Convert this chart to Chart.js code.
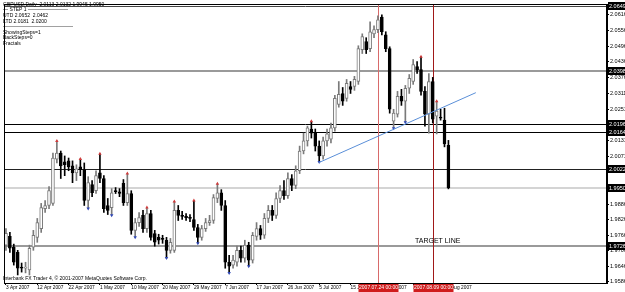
<!DOCTYPE html>
<html>
<head>
<meta charset="utf-8">
<script src="https://cdn.jsdelivr.net/npm/chart.js@4.4.1/dist/chart.umd.min.js"></script>
<style>
  html, body { margin: 0; padding: 0; background: #fff; }
  canvas { display: block; }
</style>
</head>
<body>
<canvas id="gbpChart" width="625" height="292"></canvas>
<script>
// GBPUSD daily bars, 3 Apr 2007 .. 14 Aug 2007
const opens = [
  1.9728, 1.9762, 1.9720, 1.9700, 1.9643, 1.9639, 1.9632, 1.9720, 1.9758, 1.9792,
  1.9869, 1.9881, 1.9889, 2.0060, 2.0083, 2.0049, 2.0053, 2.0034, 2.0007, 2.0030,
  2.0019, 1.9900, 1.9962, 1.9938, 2.0007, 1.9985, 1.9881, 1.9873, 1.9938, 1.9934,
  1.9966, 1.9892, 1.9927, 1.9785, 1.9815, 1.9843, 1.9792, 1.9850, 1.9773, 1.9758,
  1.9754, 1.9747, 1.9708, 1.9708, 1.9862, 1.9843, 1.9839, 1.9834, 1.9827, 1.9796,
  1.9758, 1.9792, 1.9815, 1.9823, 1.9908, 1.9930, 1.9881, 1.9662, 1.9651, 1.9662,
  1.9708, 1.9678, 1.9728, 1.9670, 1.9762, 1.9792, 1.9766, 1.9831, 1.9862, 1.9843,
  1.9908, 1.9938, 1.9919, 1.9985, 1.9958, 2.0015, 2.0091, 2.0130, 2.0176, 2.0160,
  2.0110, 2.0072, 2.0130, 2.0137, 2.0180, 2.0271, 2.0313, 2.0294, 2.0340, 2.0340,
  2.0359, 2.0482, 2.0513, 2.0486, 2.0543, 2.0559, 2.0608, 2.0539, 2.0486, 2.0206,
  2.0233, 2.0302, 2.0283, 2.0333, 2.0359, 2.0417, 2.0405, 2.0321, 2.0233, 2.0359,
  2.0225, 2.0222, 2.0210, 2.0113
];
const highs = [
  1.9792, 1.9777, 1.9732, 1.9708, 1.9659, 1.9662, 1.9728, 1.9785, 1.9831, 1.9889,
  1.9900, 1.9954, 2.0083, 2.0130, 2.0091, 2.0072, 2.0064, 2.0053, 2.0038, 2.0060,
  2.0045, 1.9992, 1.9977, 2.0015, 2.0080, 1.9996, 1.9908, 1.9946, 1.9950, 1.9946,
  1.9981, 2.0004, 1.9938, 1.9831, 1.9854, 1.9862, 1.9873, 1.9862, 1.9785, 1.9770,
  1.9766, 1.9758, 1.9754, 1.9896, 1.9881, 1.9858, 1.9850, 1.9846, 1.9900, 1.9808,
  1.9804, 1.9831, 1.9843, 1.9923, 1.9965, 1.9942, 1.9900, 1.9689, 1.9689, 1.9724,
  1.9724, 1.9747, 1.9739, 1.9777, 1.9815, 1.9804, 1.9850, 1.9881, 1.9881, 1.9930,
  1.9958, 1.9977, 2.0007, 2.0000, 2.0034, 2.0110, 2.0160, 2.0187, 2.0206, 2.0176,
  2.0130, 2.0145, 2.0176, 2.0199, 2.0306, 2.0359, 2.0336, 2.0367, 2.0359, 2.0379,
  2.0497, 2.0543, 2.0528, 2.0589, 2.0574, 2.0612, 2.0616, 2.0551, 2.0493, 2.0252,
  2.0321, 2.0329, 2.0344, 2.0386, 2.0444, 2.0436, 2.0455, 2.0340, 2.0390, 2.0375,
  2.0283, 2.0252, 2.0256, 2.0132
];
const lows = [
  1.9708, 1.9700, 1.9651, 1.9613, 1.9624, 1.9621, 1.9613, 1.9708, 1.9739, 1.9777,
  1.9854, 1.9869, 1.9881, 2.0045, 1.9985, 1.9996, 2.0015, 1.9969, 1.9977, 1.9996,
  1.9881, 1.9869, 1.9915, 1.9927, 1.9969, 1.9854, 1.9846, 1.9843, 1.9927, 1.9915,
  1.9881, 1.9881, 1.9770, 1.9758, 1.9800, 1.9777, 1.9777, 1.9747, 1.9724, 1.9732,
  1.9735, 1.9678, 1.9697, 1.9700, 1.9823, 1.9827, 1.9823, 1.9819, 1.9785, 1.9735,
  1.9747, 1.9781, 1.9804, 1.9812, 1.9892, 1.9862, 1.9639, 1.9621, 1.9639, 1.9647,
  1.9662, 1.9662, 1.9647, 1.9659, 1.9747, 1.9750, 1.9754, 1.9815, 1.9823, 1.9831,
  1.9892, 1.9904, 1.9908, 1.9938, 1.9946, 2.0004, 2.0080, 2.0110, 2.0141, 2.0091,
  2.0049, 2.0060, 2.0110, 2.0122, 2.0168, 2.0260, 2.0267, 2.0283, 2.0313, 2.0325,
  2.0348, 2.0467, 2.0467, 2.0474, 2.0528, 2.0547, 2.0539, 2.0474, 2.0237, 2.0179,
  2.0222, 2.0267, 2.0202, 2.0313, 2.0348, 2.0390, 2.0306, 2.0187, 2.0160, 2.0199,
  2.0157, 2.0210, 2.0107, 1.9945
];
const closes = [
  1.9774, 1.9716, 1.9662, 1.9639, 1.9639, 1.9643, 1.9716, 1.9766, 1.9815, 1.9873,
  1.9881, 1.9938, 2.0064, 2.0083, 2.0034, 2.0038, 2.0030, 2.0007, 2.0022, 2.0019,
  1.9900, 1.9969, 1.9930, 1.9996, 1.9985, 1.9869, 1.9862, 1.9930, 1.9934, 1.9927,
  1.9892, 1.9927, 1.9785, 1.9815, 1.9834, 1.9792, 1.9850, 1.9758, 1.9739, 1.9747,
  1.9750, 1.9708, 1.9739, 1.9862, 1.9843, 1.9839, 1.9834, 1.9831, 1.9796, 1.9758,
  1.9792, 1.9815, 1.9823, 1.9911, 1.9930, 1.9881, 1.9662, 1.9647, 1.9670, 1.9708,
  1.9678, 1.9728, 1.9670, 1.9766, 1.9792, 1.9766, 1.9831, 1.9862, 1.9843, 1.9908,
  1.9938, 1.9919, 1.9985, 1.9958, 2.0015, 2.0091, 2.0130, 2.0180, 2.0160, 2.0110,
  2.0072, 2.0130, 2.0157, 2.0180, 2.0294, 2.0310, 2.0283, 2.0352, 2.0329, 2.0367,
  2.0486, 2.0532, 2.0482, 2.0551, 2.0559, 2.0597, 2.0551, 2.0486, 2.0252, 2.0237,
  2.0302, 2.0283, 2.0333, 2.0371, 2.0424, 2.0405, 2.0321, 2.0233, 2.0359, 2.0214,
  2.0245, 2.0218, 2.0118, 1.9950
];

// time axis: one label every 8 bars
const dateTicks = ['3 Apr 2007', '12 Apr 2007', '22 Apr 2007', '1 May 2007', '10 May 2007',
  '20 May 2007', '29 May 2007', '7 Jun 2007', '17 Jun 2007', '26 Jun 2007', '5 Jul 2007',
  '15 Jul 2007', '25 Jul 2007', '3 Aug 2007', '13 Aug 2007'];
const priceTicks = [2.0616, 2.0556, 2.0496, 2.0436, 2.0376, 2.0311, 2.0251, 2.0191, 2.0131,
  2.0071, 2.0011, 1.9950, 1.9886, 1.9826, 1.9766, 1.9706, 1.9646, 1.9586];

// horizontal lines drawn on the chart
const levelValues = [2.0649, 2.0398, 2.0196, 2.0164, 2.0022, 1.9950, 1.9726];
const levelColors = ['#444444', '#9a9a9a', '#000000', '#000000', '#222222', '#d4d4d4', '#9a9a9a'];
const levelWidths = [1, 2, 1, 1, 1, 2, 2];

// vertical lines (bar index) and their time labels
const markerBars = [95, 109];
const markerLabels = ['2007.07.24 00:00', '2007.08.09 00:00'];
const markerColors = ['#d86a6a', '#a01818'];

// blue trend line
const trendBars = [80, 120];
const trendPrices = [2.0047, 2.0316];

// fractal arrows (bar index)
const upFractals = [13, 19, 24, 31, 36, 43, 48, 54, 78, 106, 110];
const downFractals = [21, 27, 33, 41, 49, 57, 62, 80, 99, 102];

const infoLines = ['GBPUSD,Daily  2.0113 2.0132 1.9945 1.9950', '— STEP 1 ————————',
  'UTD 2.0652  2.0462', 'LTD 2.0181  2.0200', '——————————————',
  'ShowingSteps=1', 'BackSteps=0', 'Fractals'];

const barSlots = 154; // bars + empty space on the right (chart shift)
const smallFont = '5px "Liberation Sans", Arial, sans-serif';

const labels = [];
for (let i = 0; i < barSlots; i++) labels.push(String(i));

const isUp = opens.map((o, i) => closes[i] >= o);
const bodyFill = isUp.map(u => u ? '#ffffff' : '#000000');
const bodyEdge = isUp.map(u => u ? '#7a7a7a' : '#000000');
const wickColor = isUp.map(u => u ? '#7a7a7a' : '#000000');

const trendData = labels.map(() => null);
trendBars.forEach((b, i) => { trendData[b] = trendPrices[i]; });

const upData = labels.map(() => null);
upFractals.forEach(b => { upData[b] = highs[b]; });
const downData = labels.map(() => null);
downFractals.forEach(b => { downData[b] = lows[b]; });

// lines, labels and texts drawn with the scales
const overlay = {
  id: 'overlay',
  beforeDatasetsDraw(chart) {
    const { ctx, chartArea: a, scales: { x, y } } = chart;
    ctx.save();
    levelValues.forEach((v, i) => {
      const w = levelWidths[i];
      const py = Math.round(y.getPixelForValue(v)) + (w % 2 ? 0.5 : 0);
      ctx.strokeStyle = levelColors[i];
      ctx.lineWidth = w;
      ctx.beginPath();
      ctx.moveTo(a.left, py);
      ctx.lineTo(a.right, py);
      ctx.stroke();
    });
    markerBars.forEach((b, i) => {
      const px = Math.round(x.getPixelForValue(b)) + 0.5;
      ctx.strokeStyle = markerColors[i];
      ctx.lineWidth = 1;
      ctx.beginPath();
      ctx.moveTo(px, a.top);
      ctx.lineTo(px, a.bottom);
      ctx.stroke();
    });
    ctx.restore();
  },
  afterDraw(chart) {
    const { ctx, chartArea: a, scales: { x, y } } = chart;
    ctx.save();

    // frame
    ctx.strokeStyle = '#000';
    ctx.lineWidth = 1;
    ctx.strokeRect(a.left + 0.5, a.top + 0.5, a.right - a.left - 1, a.bottom - a.top);

    // indicator text, top-left
    ctx.font = smallFont;
    ctx.fillStyle = '#000';
    ctx.textBaseline = 'middle';
    ctx.textAlign = 'left';
    infoLines.forEach((t, i) => {
      ctx.fillText(t, 3, 4.5 + i * 5.6);
    });

    // copyright line
    ctx.fillText('Interbank FX Trader 4, © 2001-2007 MetaQuotes Software Corp.', 3, 279);

    // target line caption
    ctx.font = '7px "Liberation Sans", Arial, sans-serif';
    ctx.textBaseline = 'alphabetic';
    ctx.fillText('TARGET LINE', 415, y.getPixelForValue(1.9726) - 3);

    // price boxes for the horizontal lines
    ctx.font = '5.5px "Liberation Sans", Arial, sans-serif';
    ctx.textBaseline = 'middle';
    levelValues.forEach(v => {
      const py = Math.round(y.getPixelForValue(v));
      ctx.fillStyle = '#000';
      ctx.fillRect(a.right + 1, py - 4, 17, 8);
      ctx.fillStyle = '#fff';
      ctx.fillText(v.toFixed(4), a.right + 2, py);
    });

    // time boxes for the vertical lines
    ctx.font = '5px "Liberation Sans", Arial, sans-serif';
    ctx.textAlign = 'center';
    markerBars.forEach((b, i) => {
      const px = Math.round(x.getPixelForValue(b)) + 0.5;
      ctx.fillStyle = '#d01c1c';
      ctx.fillRect(px - 20, a.bottom + 1, 40, 8);
      ctx.fillStyle = '#fff';
      ctx.fillText(markerLabels[i], px, a.bottom + 5);
    });
    ctx.restore();
  }
};

new Chart(document.getElementById('gbpChart'), {
  type: 'bar',
  data: {
    labels: labels,
    datasets: [
      {
        type: 'line',
        data: trendData,
        borderColor: '#5a8fd8',
        borderWidth: 1,
        pointRadius: 0,
        spanGaps: true,
        order: 0
      },
      {
        type: 'line',
        data: upData,
        showLine: false,
        pointStyle: 'triangle',
        pointRadius: 2,
        pointBackgroundColor: '#d03a3a',
        pointBorderColor: '#d03a3a',
        pointBorderWidth: 0,
        order: 0
      },
      {
        type: 'line',
        data: downData,
        showLine: false,
        pointStyle: 'triangle',
        pointRotation: 180,
        pointRadius: 2,
        pointBackgroundColor: '#3048b8',
        pointBorderColor: '#3048b8',
        pointBorderWidth: 0,
        order: 0
      },
      {
        data: opens.map((o, i) => [o, closes[i]]),
        backgroundColor: bodyFill,
        borderColor: bodyEdge,
        borderWidth: 1,
        borderSkipped: false,
        barThickness: 3,
        minBarLength: 1,
        grouped: false,
        order: 1
      },
      {
        data: lows.map((l, i) => [l, highs[i]]),
        backgroundColor: wickColor,
        borderWidth: 0,
        barThickness: 1,
        grouped: false,
        order: 2
      }
    ]
  },
  options: {
    responsive: false,
    devicePixelRatio: 1,
    animation: false,
    layout: { padding: { top: 2, left: 0, right: 0, bottom: 0 } },
    plugins: {
      legend: { display: false },
      tooltip: { enabled: false }
    },
    scales: {
      x: {
        offset: true,
        grid: {
          display: true,
          drawOnChartArea: false,
          drawTicks: true,
          tickLength: 2,
          offset: false,
          color: c => (c.index % 8 === 0 && c.index / 8 < dateTicks.length) ? '#000' : 'rgba(0,0,0,0)'
        },
        border: { display: true, color: '#000' },
        ticks: {
          autoSkip: false,
          maxRotation: 0,
          minRotation: 0,
          align: 'start',
          padding: 0,
          color: '#000',
          font: { family: '"Liberation Sans", Arial, sans-serif', size: 4.8 },
          callback: (v, i) => (i % 8 === 0 && i / 8 < dateTicks.length) ? dateTicks[i / 8] : ''
        },
        afterFit: s => { s.height = 9; s.paddingLeft = 0; s.paddingRight = 0; }
      },
      y: {
        position: 'right',
        min: 1.9582,
        max: 2.0658,
        grid: { display: true, drawOnChartArea: false, tickLength: 2, color: '#000' },
        border: { display: true, color: '#000' },
        ticks: {
          padding: 1,
          color: '#000',
          font: { family: '"Liberation Sans", Arial, sans-serif', size: 5.5 },
          callback: v => v.toFixed(4)
        },
        afterBuildTicks: s => { s.ticks = priceTicks.map(v => ({ value: v })); },
        afterFit: s => { s.width = 18; s.paddingTop = 0; s.paddingBottom = 0; }
      }
    }
  },
  plugins: [overlay]
});
</script>
</body>
</html>
